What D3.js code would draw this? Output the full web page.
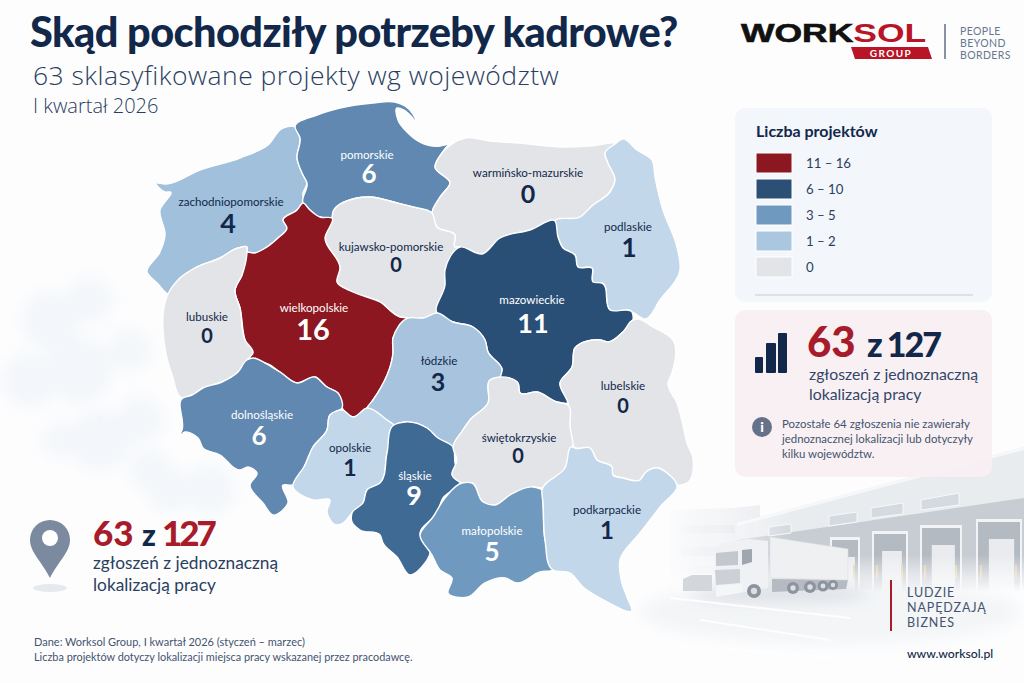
<!DOCTYPE html>
<html lang="pl">
<head>
<meta charset="utf-8">
<title>Skąd pochodziły potrzeby kadrowe?</title>
<script src="https://cdn.jsdelivr.net/npm/d3@7"></script>
<style>
	html,body{margin:0;padding:0;background:#fff;}
	svg{display:block;font-family:Lato,"Open Sans",sans-serif;}
</style>
</head>
<body>
<svg id="chart" width="1024" height="683" viewBox="0 0 1024 683"></svg>
<script>
// dane
var regions = ['zachodniopomorskie','pomorskie','warmińsko-mazurskie','podlaskie','kujawsko-pomorskie','wielkopolskie','lubuskie','mazowieckie','łódzkie','lubelskie','dolnośląskie','opolskie','śląskie','świętokrzyskie','małopolskie','podkarpackie'];
var projects = [4,6,0,1,0,16,0,11,3,0,6,1,9,0,5,1];
var legendLabels = ['11 – 16','6 – 10','3 – 5','1 – 2','0'];
var legendValues = [16,10,5,2,0];
var matched = 63;
var total = 127;

// kontury województw (współrzędne obrazka)
var outlines = {
	'zachodniopomorskie':[[156,183],[165,184],[200,170],[240,158],[268,145],[283,128],[295,127],[300,138],[297,158],[303,175],[307,183],[303,193],[303,203],[297,210],[283,220],[287,228],[278,238],[262,250],[255,253],[247,252],[247,247],[238,248],[220,258],[195,268],[180,278],[168,294],[158,284],[147,272],[160,252],[165,235],[160,210],[170,192],[165,192]],
	'pomorskie':[[295,127],[317,115],[340,108],[373,103],[395,102],[405,106],[413,114],[417,124],[411,116],[404,110],[397,108],[398,120],[407,132],[420,142],[440,146],[450,143],[457,137],[444,150],[442,153],[435,167],[450,183],[440,197],[432,212],[413,207],[397,203],[370,197],[357,198],[333,212],[332,218],[320,217],[310,210],[303,203],[307,183],[303,175],[297,158],[300,138]],
	'warmińsko-mazurskie':[[465,138],[490,141],[520,143],[563,147],[590,146],[615,144],[605,153],[608,163],[615,180],[610,192],[593,205],[580,217],[555,221],[530,230],[500,238],[482,254],[460,247],[455,247],[455,235],[437,227],[432,213],[440,197],[450,183],[435,167],[442,153]],
	'podlaskie':[[615,144],[622,139],[637,150],[652,160],[655,177],[663,210],[677,247],[680,270],[660,300],[645,319],[632,312],[610,310],[602,283],[593,282],[592,268],[578,267],[575,255],[563,248],[558,237],[555,221],[580,217],[593,205],[610,192],[615,180],[608,163],[605,153]],
	'kujawsko-pomorskie':[[333,212],[357,198],[370,197],[397,203],[413,207],[432,213],[437,227],[455,235],[455,247],[460,247],[445,270],[445,285],[437,313],[423,318],[408,318],[400,317],[380,302],[353,292],[337,282],[340,268],[325,238],[332,218]],
	'wielkopolskie':[[303,203],[310,210],[320,217],[332,218],[325,238],[340,268],[337,282],[353,292],[380,302],[400,317],[408,318],[393,338],[393,353],[373,400],[367,408],[353,417],[342,408],[338,393],[327,387],[315,377],[297,383],[280,372],[265,363],[255,363],[245,340],[240,308],[235,290],[242,275],[247,252],[255,253],[262,250],[278,238],[287,228],[283,220],[297,210]],
	'lubuskie':[[168,294],[180,278],[195,268],[220,258],[238,248],[247,247],[247,252],[242,275],[235,290],[240,308],[245,340],[253,353],[247,360],[238,372],[222,382],[203,388],[192,395],[183,398],[172,375],[163,330],[163,315]],
	'mazowieckie':[[555,221],[558,237],[563,248],[575,255],[578,267],[592,268],[593,282],[602,283],[610,310],[632,312],[633,320],[623,332],[608,342],[600,340],[575,348],[572,367],[560,383],[568,403],[557,402],[537,392],[520,393],[518,383],[500,377],[502,370],[488,352],[485,340],[473,327],[453,322],[437,313],[445,285],[445,270],[460,247],[482,254],[500,238],[530,230]],
	'łódzkie':[[408,318],[423,318],[437,313],[453,322],[473,327],[485,340],[488,352],[502,370],[500,377],[490,380],[488,403],[470,420],[463,430],[453,447],[438,438],[427,428],[405,422],[394,425],[387,420],[367,408],[373,400],[393,353],[393,338]],
	'lubelskie':[[637,319],[653,327],[673,340],[672,373],[668,383],[677,403],[683,425],[687,443],[693,458],[687,483],[677,485],[667,473],[658,468],[645,473],[640,480],[623,478],[613,475],[612,467],[597,460],[590,448],[575,448],[570,427],[568,403],[560,383],[572,367],[575,348],[600,340],[608,342],[623,332],[633,320]],
	'dolnośląskie':[[183,398],[192,395],[203,388],[222,382],[238,372],[247,360],[253,358],[265,363],[280,372],[297,383],[315,377],[327,387],[338,393],[342,408],[330,415],[327,430],[313,447],[305,465],[293,485],[283,485],[288,503],[273,515],[263,503],[250,485],[257,473],[248,467],[240,470],[220,455],[203,448],[198,438],[185,432],[175,443],[182,430]],
	'opolskie':[[342,410],[353,417],[367,408],[387,420],[394,425],[387,453],[380,483],[367,490],[363,503],[352,513],[343,523],[337,525],[327,512],[330,500],[313,500],[293,487],[305,465],[313,447],[327,430],[330,415]],
	'śląskie':[[394,425],[405,422],[427,428],[438,438],[453,447],[455,463],[460,483],[443,498],[437,513],[420,533],[430,553],[425,563],[410,575],[397,557],[383,543],[380,535],[360,530],[352,522],[352,513],[363,503],[367,490],[380,483],[387,453]],
	'świętokrzyskie':[[453,447],[463,430],[470,420],[488,403],[490,380],[500,377],[518,383],[520,393],[537,392],[557,402],[568,405],[570,427],[573,447],[565,468],[542,488],[533,487],[510,495],[495,505],[483,502],[472,483],[462,483],[452,475],[457,460]],
	'małopolskie':[[462,483],[472,483],[483,502],[495,505],[510,495],[533,487],[542,490],[543,503],[545,540],[553,570],[540,572],[517,583],[505,578],[485,583],[468,597],[448,593],[452,578],[440,570],[432,555],[420,535],[433,517],[445,498]],
	'podkarpackie':[[575,448],[590,448],[597,460],[612,467],[613,475],[623,478],[640,480],[645,473],[658,468],[667,473],[677,485],[660,507],[640,533],[620,560],[622,583],[627,597],[632,610],[600,598],[583,587],[570,573],[553,570],[545,540],[543,503],[542,490],[565,468],[573,447]]
};

// punkty podpisów: [x nazwy, y nazwy, x liczby, y liczby, rozmiar liczby]
var labelAnchors = {
	'zachodniopomorskie':[231,206,228,233,27],
	'pomorskie':[367,159,369,183,26],
	'warmińsko-mazurskie':[528,177,528,203,25],
	'podlaskie':[628,231,629,257,26],
	'kujawsko-pomorskie':[391,251,396,272,20],
	'wielkopolskie':[314,312,313,340,29],
	'lubuskie':[207,321,207,343,20],
	'mazowieckie':[532,304,533,333,27],
	'łódzkie':[439,365,438,391,25],
	'lubelskie':[623,390,623,413,20],
	'dolnośląskie':[262,419,259,445,26],
	'opolskie':[350,452,350,476,23],
	'śląskie':[415,480,414,505,27],
	'świętokrzyskie':[519,442,518,463,20],
	'małopolskie':[492,535,492,561,26],
	'podkarpackie':[607,514,607,539,24]
};

var color = d3.scaleOrdinal()
	.domain([0,1,2,3,4,5,6,9,10,11,16])
	.range(['#e2e4e8','#c2d7ea','#abc7e0','#a7c3de','#a0c0dc','#7099c0','#6188b1','#3f6a94','#2b4f75','#2a4f76','#8c1720']);
var darkText = '#12284a';
var isWhiteLabel = d3.scaleThreshold().domain([5]).range([false,true]);

var svg = d3.select('#chart');
var defs = svg.append('defs');

// tlo
function linear(id,x1,y1,x2,y2,stops){
	var g = defs.append('linearGradient').attr('id',id).attr('gradientUnits','userSpaceOnUse')
		.attr('x1',x1).attr('y1',y1).attr('x2',x2).attr('y2',y2);
	stops.forEach(function(s){
		g.append('stop').attr('offset',s[0]).attr('stop-color',s[1]);
	});
}
linear('fadeLeft',655,0,790,0,[[0,'#000'],[0.5,'#666'],[1,'#fff']]);
linear('fadeDown',0,555,0,592,[[0,'#fff'],[1,'#000']]);
defs.append('mask').attr('id','maskLeft').attr('maskUnits','userSpaceOnUse').attr('x',0).attr('y',0).attr('width',1024).attr('height',683)
	.append('rect').attr('width',1024).attr('height',683).attr('fill','url(#fadeLeft)');
defs.append('mask').attr('id','maskDown').attr('maskUnits','userSpaceOnUse').attr('x',0).attr('y',0).attr('width',1024).attr('height',683)
	.append('rect').attr('width',1024).attr('height',683).attr('fill','url(#fadeDown)');
defs.append('filter').attr('id','blur1').append('feGaussianBlur').attr('stdDeviation',0.5);
defs.append('filter').attr('id','blur6').attr('x','-30%').attr('y','-100%').attr('width','160%').attr('height','300%').append('feGaussianBlur').attr('stdDeviation',7);

svg.append('rect').attr('width',1024).attr('height',683).attr('fill','#fdfdfe');

// plama w tle po lewej
var haze = svg.append('g').attr('filter','url(#blur6)').attr('fill','#eef3f8').attr('opacity',0.6);
[[50,320,30],[90,300,24],[30,380,28],[80,370,34],[130,350,22],[140,420,24],[100,440,32],[210,490,26],[170,490,24],[150,470,22],[60,440,18]].forEach(function(b){
	haze.append('circle').attr('cx',b[0]).attr('cy',b[1]).attr('r',b[2]);
});

function poly(g,pts,fill,op){
	return g.append('polygon').attr('points',pts.join(' ')).attr('fill',fill).attr('opacity',op===undefined?1:op);
}

// podloze
var ground = svg.append('g').attr('filter','url(#blur6)');
ground.append('ellipse').attr('cx',830).attr('cy',612).attr('rx',190).attr('ry',32).attr('fill','#f3f5f7');
ground.append('ellipse').attr('cx',780).attr('cy',594).attr('rx',90).attr('ry',8).attr('fill','#dcdfe4');
[[[670,598],[850,618]],[[700,620],[830,640]],[[720,648],[850,660]]].forEach(function(s){
	svg.append('line').attr('x1',s[0][0]).attr('y1',s[0][1]).attr('x2',s[1][0]).attr('y2',s[1][1]).attr('stroke','#fff').attr('stroke-width',2).attr('opacity',0.9);
});

// magazyn
var building = svg.append('g').attr('mask','url(#maskDown)').append('g').attr('mask','url(#maskLeft)').append('g').attr('filter','url(#blur1)');
poly(building,[[670,510],[735,508],[760,505],[760,585],[670,585]],'#e6e9ed');
[[525,0],[548,2],[566,0]].forEach(function(r){
	poly(building,[[680,r[0]],[735,r[0]-r[1]],[735,r[0]+8],[680,r[0]+8]],'#d9dde3');
});
poly(building,[[737,523],[1024,447],[1024,590],[737,590]],'#e9ecef');
poly(building,[[737,540],[1024,498],[1024,590],[737,590]],'#c8cdd4');
poly(building,[[737,523],[1024,447],[1024,450],[737,526]],'#f6f7f9');
[[[769,527],[791,524],[791,533],[769,536]],[[829,516],[857,512],[857,522],[829,526]],[[871,508],[903,503],[903,514],[871,518]],[[921,500],[959,493],[959,505],[921,510]]].forEach(function(w){
	poly(building,w,'#d5dae0').attr('stroke','#f7f8f9');
});
[[830,537,30],[872,531,36],[920,525,42],[976,519,46]].forEach(function(d){
	building.append('rect').attr('x',d[0]).attr('y',d[1]).attr('width',d[2]).attr('height',590-d[1]).attr('fill','#f2f3f5');
	building.append('rect').attr('x',d[0]+2).attr('y',d[1]+3).attr('width',d[2]-4).attr('height',590-d[1]).attr('fill','#b4bac2');
	building.append('rect').attr('x',d[0]+d[2]*0.28).attr('y',d[1]+20).attr('width',d[2]*0.55).attr('height',590-d[1]).attr('fill','#e9ebee');
	building.append('rect').attr('x',d[0]+4).attr('y',565).attr('width',2).attr('height',14).attr('fill','#e3cf9c');
	building.append('rect').attr('x',d[0]+d[2]-7).attr('y',565).attr('width',2).attr('height',14).attr('fill','#e3cf9c');
});

// ciezarowka
var truck = svg.append('g').attr('filter','url(#blur1)');
poly(truck,[[772,579],[848,580],[846,589],[772,592]],'#b6bbc3');
poly(truck,[[770,537],[848,549],[848,580],[770,578]],'#eef0f2').attr('stroke','#dcdfe3').attr('stroke-width',0.6);
poly(truck,[[683,579],[692,575],[712,575],[712,591],[683,591]],'#d3d7dc');
poly(truck,[[715,553],[722,543],[748,539],[768,541],[768,588],[716,597]],'#f0f1f4');
poly(truck,[[716,553],[738,551],[738,565],[716,566]],'#c3c8cf');
poly(truck,[[742,550],[752,549],[752,562],[742,565]],'#a0a6b0');
poly(truck,[[715,570],[740,569],[740,583],[716,585]],'#cdd1d7');
poly(truck,[[716,586],[742,584],[742,592],[716,597]],'#f5f6f8');
[[754,591,7],[793,588,6],[810,587,6],[823,586,5.5],[833,585,5]].forEach(function(w){
	truck.append('circle').attr('cx',w[0]).attr('cy',w[1]).attr('r',w[2]).attr('fill','#8d949f');
	truck.append('circle').attr('cx',w[0]).attr('cy',w[1]).attr('r',w[2]*0.45).attr('fill','#dcdfe4');
});

// mapa
var outline = d3.line().curve(d3.curveCatmullRomClosed.alpha(1));
var map = svg.append('g').attr('class','map');
map.selectAll('path').data(regions).enter().append('path')
	.attr('d',function(d){ return outline(outlines[d]); })
	.attr('fill',function(d,i){ return color(projects[i]); })
	.attr('stroke','#fff')
	.attr('stroke-width',1.4)
	.attr('stroke-linejoin','round');

var labels = map.selectAll('g.label').data(regions).enter().append('g').attr('class','label')
	.attr('text-anchor','middle')
	.attr('fill',function(d,i){ return isWhiteLabel(projects[i]) ? '#fff' : darkText; });
labels.append('text')
	.attr('x',function(d){ return labelAnchors[d][0]; })
	.attr('y',function(d){ return labelAnchors[d][1]; })
	.attr('font-size',11.6)
	.text(function(d){ return d; });
labels.append('text')
	.attr('x',function(d){ return labelAnchors[d][2]; })
	.attr('y',function(d){ return labelAnchors[d][3]; })
	.attr('font-size',function(d){ return labelAnchors[d][4]; })
	.attr('font-weight',700)
	.text(function(d,i){ return projects[i]; });

// naglowek
svg.append('text').attr('x',30).attr('y',47).attr('font-size',41.5).attr('font-weight',900).attr('fill',darkText).attr('letter-spacing',-0.6).text('Skąd pochodziły potrzeby kadrowe?');
svg.append('text').attr('x',33).attr('y',85).attr('font-family','"Open Sans"').attr('font-size',26.5).attr('font-weight',300).attr('letter-spacing',0.45).attr('fill','#2a3f60').text('63 sklasyfikowane projekty wg województw');
svg.append('text').attr('x',33).attr('y',113).attr('font-family','"Open Sans"').attr('font-size',20).attr('font-weight',300).attr('fill','#2a3f60').text('I kwartał 2026');

// logo
var logo = svg.append('g');
logo.append('text').attr('transform','translate(741,42) scale(1.42,1)').attr('font-family','Liberation Sans').attr('font-size',25).attr('font-weight',700)
	.call(function(t){
		t.append('tspan').attr('fill','#111').attr('stroke','#111').attr('stroke-width',0.6).text('WORK');
		t.append('tspan').attr('fill','#b81527').text('SOL');
	});
poly(logo,[[851,47],[928,47],[932,59],[855,59]],'#b81527');
logo.append('text').attr('x',891).attr('y',57).attr('text-anchor','middle').attr('font-size',10).attr('font-weight',700).attr('letter-spacing',1.4).attr('fill','#fff').text('GROUP');
logo.append('line').attr('x1',945).attr('x2',945).attr('y1',24).attr('y2',59).attr('stroke','#4a5a70').attr('stroke-width',1.3);
['PEOPLE','BEYOND','BORDERS'].forEach(function(s,i){
	logo.append('text').attr('x',960).attr('y',35+i*12).attr('font-size',10.5).attr('letter-spacing',0.4).attr('fill','#66778f').text(s);
});

// legenda
svg.append('rect').attr('x',735).attr('y',108).attr('width',257).attr('height',194).attr('rx',10).attr('fill','#f3f6fa');
svg.append('text').attr('x',756).attr('y',137).attr('font-size',16).attr('font-weight',700).attr('fill',darkText).text('Liczba projektów');
var legendY = d3.scaleBand().domain(legendLabels).range([150,280]);
var legend = svg.selectAll('g.legend').data(legendLabels).enter().append('g').attr('class','legend')
	.attr('transform',function(d){ return 'translate(756,'+legendY(d)+')'; });
legend.append('rect').attr('y',3).attr('width',36).attr('height',20).attr('stroke','#fff')
	.attr('fill',function(d,i){ return color(legendValues[i]); });
legend.append('text').attr('x',50).attr('y',17.5).attr('font-size',13.2).attr('fill','#2a3f60').text(function(d){ return d; });
svg.append('line').attr('x1',755).attr('x2',973).attr('y1',295).attr('y2',295).attr('stroke','#c9ced6');

// panel z liczba zgloszen
svg.append('rect').attr('x',735).attr('y',310).attr('width',257).attr('height',167).attr('rx',10).attr('fill','#f8eff2').attr('fill-opacity',0.95);
[[755,357,8],[766,343,10],[778,333,9]].forEach(function(b){
	svg.append('rect').attr('x',b[0]).attr('y',b[1]).attr('width',b[2]).attr('height',373-b[1]).attr('rx',1).attr('fill',darkText);
});
svg.append('text').attr('x',807).attr('y',357).attr('font-size',42).attr('font-weight',900).attr('fill','#a81b2b').text(matched);
svg.append('text').attr('x',867).attr('y',357).attr('font-size',34).attr('font-weight',900).attr('fill',darkText).attr('letter-spacing',-2).text('z '+total);
svg.append('text').attr('x',809).attr('y',380).attr('font-size',15.8).attr('fill','#33466a').text('zgłoszeń z jednoznaczną');
svg.append('text').attr('x',809).attr('y',400).attr('font-size',15.8).attr('fill','#33466a').text('lokalizacją pracy');
svg.append('circle').attr('cx',762).attr('cy',427).attr('r',10).attr('fill','#65728a');
svg.append('text').attr('x',762).attr('y',432).attr('text-anchor','middle').attr('font-size',14).attr('font-weight',900).attr('fill','#fff').text('i');
['Pozostałe 64 zgłoszenia nie zawierały','jednoznacznej lokalizacji lub dotyczyły','kilku województw.'].forEach(function(s,i){
	svg.append('text').attr('x',782).attr('y',428+i*15).attr('font-size',11.4).attr('fill','#44546f').text(s);
});

// pinezka
svg.append('ellipse').attr('cx',50).attr('cy',588).attr('rx',17).attr('ry',4).attr('fill','#e6e9ee');
svg.append('path').attr('d','M50 578C42 562 30 552 30 540A20 20 0 0 1 70 540C70 552 58 562 50 578Z').attr('fill','#7b8a9f');
svg.append('circle').attr('cx',50).attr('cy',538).attr('r',8).attr('fill','#fff');
svg.append('text').attr('x',93).attr('y',546).attr('font-weight',900).attr('font-size',35).attr('fill','#a81b2b').text(matched);
svg.append('text').attr('x',142).attr('y',546).attr('font-weight',900).attr('font-size',30).attr('fill',darkText).text('z');
svg.append('text').attr('x',162).attr('y',546).attr('font-weight',900).attr('font-size',35).attr('letter-spacing',-3).attr('fill','#a81b2b').text(total);
svg.append('text').attr('x',93).attr('y',569).attr('font-size',17.3).attr('fill','#2a3f60').text('zgłoszeń z jednoznaczną');
svg.append('text').attr('x',93).attr('y',591).attr('font-size',17.3).attr('fill','#2a3f60').text('lokalizacją pracy');

// stopka
svg.append('text').attr('x',34).attr('y',646).attr('font-size',11).attr('fill','#44546f').text('Dane: Worksol Group, I kwartał 2026 (styczeń – marzec)');
svg.append('text').attr('x',34).attr('y',661).attr('font-size',10.9).attr('fill','#44546f').text('Liczba projektów dotyczy lokalizacji miejsca pracy wskazanej przez pracodawcę.');

svg.append('rect').attr('x',890).attr('y',580).attr('width',2).attr('height',51).attr('fill','#a81b2b');
['LUDZIE','NAPĘDZAJĄ','BIZNES'].forEach(function(s,i){
	svg.append('text').attr('x',907).attr('y',597+i*15).attr('font-size',12.5).attr('letter-spacing',0.9).attr('fill','#44546f').text(s);
});
svg.append('text').attr('x',907).attr('y',658).attr('font-size',12.2).attr('font-weight',500).attr('fill',darkText).text('www.worksol.pl');
</script>
</body>
</html>
